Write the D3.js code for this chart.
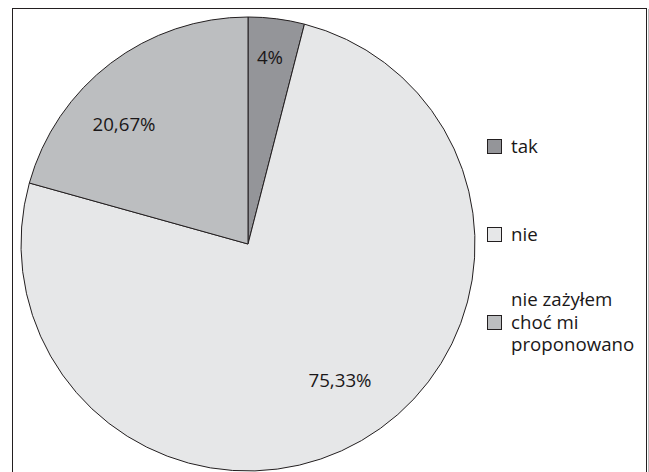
<!DOCTYPE html>
<html>
<head>
<meta charset="utf-8">
<script src="https://cdn.jsdelivr.net/npm/d3@7"></script>
<style>
  body { margin: 0; background: #fff; }
  text { font-family: "Open Sans", sans-serif; fill: #1a1718; }
</style>
</head>
<body>
<div id="chart"></div>
<script>
// data
var categories = ["tak", "nie", "nie zażyłem choć mi proponowano"];
var legendLines = [["tak"], ["nie"], ["nie zażyłem", "choć mi", "proponowano"]];
var values = [4, 75.33, 20.67];
var valueLabels = ["4%", "75,33%", "20,67%"];
var colors = ["#949599", "#e6e7e8", "#bcbec0"];

var width = 649,
    height = 472,
    cx = 248,
    cy = 244,
    radius = 227;

// label centres, relative to the pie centre
var labelOffsets = [[22, -188], [92, 135], [-124, -121]];
var legendRowY = [146, 234, 322];

var svg = d3.select("#chart")
            .append("svg")
            .attr("width", width)
            .attr("height", height);

// frame
svg.append("rect")
   .attr("x", 12.5)
   .attr("y", 8.5)
   .attr("width", 634)
   .attr("height", 480)
   .attr("fill", "none")
   .attr("stroke", "#231f20")
   .attr("stroke-width", 1);

svg.append("line")
   .attr("x1", 648.5).attr("x2", 648.5)
   .attr("y1", 9).attr("y2", height)
   .attr("stroke", "#bbb")
   .attr("stroke-width", 1);

var pie = d3.pie().sort(null).value(d => d);
var arc = d3.arc().innerRadius(0).outerRadius(radius);

var g = svg.append("g")
           .attr("transform", "translate(" + cx + "," + cy + ")");

var arcs = pie(values);

g.selectAll("path")
 .data(arcs)
 .enter()
 .append("path")
 .attr("d", arc)
 .attr("fill", (d, i) => colors[i])
 .attr("stroke", "#231f20")
 .attr("stroke-width", 1);

g.selectAll("text.value")
 .data(arcs)
 .enter()
 .append("text")
 .attr("class", "value")
 .attr("x", (d, i) => labelOffsets[i][0])
 .attr("y", (d, i) => labelOffsets[i][1])
 .attr("text-anchor", "middle")
 .attr("dominant-baseline", "central")
 .style("font-size", "18.7px")
 .text((d, i) => valueLabels[i]);

// legend
var legend = svg.append("g").attr("id", "legend");

var items = legend.selectAll("g")
                  .data(categories)
                  .enter()
                  .append("g")
                  .attr("transform", (d, i) => "translate(487," + legendRowY[i] + ")");

items.append("rect")
     .attr("x", 0.5)
     .attr("y", -6.5)
     .attr("width", 14)
     .attr("height", 14)
     .attr("fill", (d, i) => colors[i])
     .attr("stroke", "#231f20")
     .attr("stroke-width", 1);

items.each(function(d, i) {
  var lines = legendLines[i];
  var t = d3.select(this).append("text")
            .attr("x", 24)
            .style("font-size", "18.7px");
  lines.forEach((line, j) => {
    t.append("tspan")
     .attr("x", 24)
     .attr("y", (j - (lines.length - 1) / 2) * 22.5 + 6.5)
     .text(line);
  });
});
</script>
</body>
</html>
